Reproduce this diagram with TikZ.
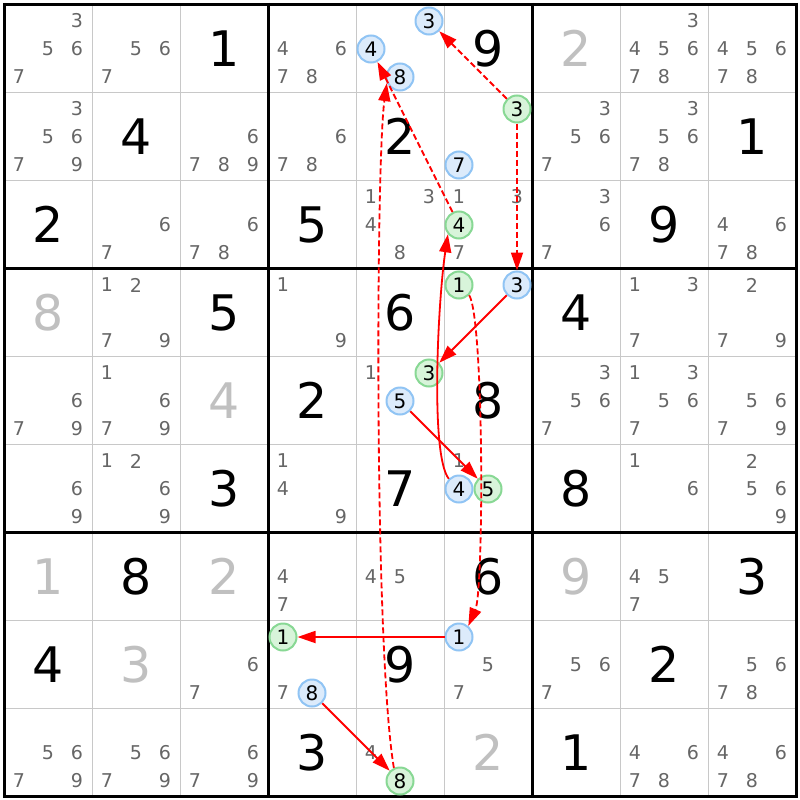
\documentclass[tikz,border=0pt]{standalone}
\usepackage{fontspec}
\setmainfont{DejaVu Sans}
\usetikzlibrary{arrows.meta}
\definecolor{candgray}{HTML}{666666}
\definecolor{solvgray}{HTML}{C0C0C0}
\definecolor{gridgray}{HTML}{C8C8C8}
\definecolor{bluefill}{HTML}{DCEBFB}
\definecolor{blueline}{HTML}{90C4F4}
\definecolor{greenfill}{HTML}{D8F4DA}
\definecolor{greenline}{HTML}{88D894}
\definecolor{arrred}{HTML}{FF0000}
\newcommand\cnd[4][cand]{%
  \pgfmathsetmacro\cx{48+88*(#3-1)+29*(mod(#4-1,3)-1)}%
  \pgfmathsetmacro\cy{49+88*(#2-1)+28*(floor((#4-1)/3)-1)}%
  \node[#1] (n#2#3#4) at (\cx,\cy) {#4};}
\newcommand\cndlist[3]{\foreach \k in {#3}{\cnd{#1}{#2}{\k}}}
\newcommand\bigd[4][given]{\node[#1] (d#2#3) at ({48.5+88*(#3-1)},{48.5+88*(#2-1)}) {#4};}
\begin{document}
\begin{tikzpicture}[x=1pt,y=-1pt,
  cand/.style={font=\fontsize{19}{20}\selectfont, text=candgray, inner sep=0pt},
  given/.style={font=\fontsize{49}{49}\selectfont, text=black, inner sep=0pt},
  solved/.style={given, text=solvgray},
  bluec/.style={circle, draw=blueline, fill=bluefill, line width=2pt, minimum size=27pt, inner sep=0pt, font=\fontsize{20}{20}\selectfont, text=black},
  greenc/.style={bluec, draw=greenline, fill=greenfill},
  thingrid/.style={draw=gridgray, line width=1.5pt},
  thickgrid/.style={draw=black, line width=3pt},
  arr/.style={draw=arrred, line width=1.8pt, -{Triangle[length=18pt,width=12pt]}},
  dasharr/.style={arr, dash pattern=on 6pt off 3pt}]
\useasboundingbox (0,0) rectangle (800,800);
\fill[white] (0,0) rectangle (800,800);
% grid
\foreach \i in {1,2,4,5,7,8} {
  \draw[thingrid] (4.5+88*\i,4.5) -- (4.5+88*\i,796.5);
  \draw[thingrid] (4.5,4.5+88*\i) -- (796.5,4.5+88*\i);
}
\foreach \i in {0,3,6,9} {
  \draw[thickgrid] (4.5+88*\i,3) -- (4.5+88*\i,798);
  \draw[thickgrid] (3,4.5+88*\i) -- (798,4.5+88*\i);
}
% big digits
\bigd{1}{3}{1} \bigd{1}{6}{9} \bigd[solved]{1}{7}{2}
\bigd{2}{2}{4} \bigd{2}{5}{2} \bigd{2}{9}{1}
\bigd{3}{1}{2} \bigd{3}{4}{5} \bigd{3}{8}{9}
\bigd[solved]{4}{1}{8} \bigd{4}{3}{5} \bigd{4}{5}{6} \bigd{4}{7}{4}
\bigd[solved]{5}{3}{4} \bigd{5}{4}{2} \bigd{5}{6}{8}
\bigd{6}{3}{3} \bigd{6}{5}{7} \bigd{6}{7}{8}
\bigd[solved]{7}{1}{1} \bigd{7}{2}{8} \bigd[solved]{7}{3}{2} \bigd{7}{6}{6} \bigd[solved]{7}{7}{9} \bigd{7}{9}{3}
\bigd{8}{1}{4} \bigd[solved]{8}{2}{3} \bigd{8}{5}{9} \bigd{8}{8}{2}
\bigd{9}{4}{3} \bigd[solved]{9}{6}{2} \bigd{9}{7}{1}
% candidates
\cndlist{1}{1}{3,5,6,7} \cndlist{1}{2}{5,6,7} \cndlist{1}{4}{4,6,7,8}
\cndlist{1}{8}{3,4,5,6,7,8} \cndlist{1}{9}{4,5,6,7,8}
\cndlist{2}{1}{3,5,6,7,9} \cndlist{2}{3}{6,7,8,9} \cndlist{2}{4}{6,7,8}
\cndlist{2}{7}{3,5,6,7} \cndlist{2}{8}{3,5,6,7,8}
\cndlist{3}{2}{6,7} \cndlist{3}{3}{6,7,8} \cndlist{3}{5}{1,3,4,8} \cndlist{3}{6}{1,3,7}
\cndlist{3}{7}{3,6,7} \cndlist{3}{9}{4,6,7,8}
\cndlist{4}{2}{1,2,7,9} \cndlist{4}{4}{1,9} \cndlist{4}{8}{1,3,7} \cndlist{4}{9}{2,7,9}
\cndlist{5}{1}{6,7,9} \cndlist{5}{2}{1,6,7,9} \cndlist{5}{5}{1}
\cndlist{5}{7}{3,5,6,7} \cndlist{5}{8}{1,3,5,6,7} \cndlist{5}{9}{5,6,7,9}
\cndlist{6}{1}{6,9} \cndlist{6}{2}{1,2,6,9} \cndlist{6}{4}{1,4,9} \cndlist{6}{6}{1}
\cndlist{6}{8}{1,6} \cndlist{6}{9}{2,5,6,9}
\cndlist{7}{4}{4,7} \cndlist{7}{5}{4,5} \cndlist{7}{8}{4,5,7}
\cndlist{8}{3}{6,7} \cndlist{8}{4}{7} \cndlist{8}{6}{5,7} \cndlist{8}{7}{5,6,7} \cndlist{8}{9}{5,6,7,8}
\cndlist{9}{1}{5,6,7,9} \cndlist{9}{2}{5,6,7,9} \cndlist{9}{3}{6,7,9} \cndlist{9}{5}{4}
\cndlist{9}{8}{4,6,7,8} \cndlist{9}{9}{4,6,7,8}
% highlighted candidates
\cnd[bluec]{1}{5}{3} \cnd[bluec]{1}{5}{4} \cnd[bluec]{1}{5}{8}
\cnd[greenc]{2}{6}{3} \cnd[bluec]{2}{6}{7}
\cnd[greenc]{3}{6}{4}
\cnd[greenc]{4}{6}{1} \cnd[bluec]{4}{6}{3}
\cnd[greenc]{5}{5}{3} \cnd[bluec]{5}{5}{5}
\cnd[bluec]{6}{6}{4} \cnd[greenc]{6}{6}{5}
\cnd[greenc]{8}{4}{1} \cnd[bluec]{8}{4}{8} \cnd[bluec]{8}{6}{1}
\cnd[greenc]{9}{5}{8}
% chain
\draw[dasharr] (n263) -- (n153);
\draw[dasharr] (n263) -- (n463);
\draw[arr] (n463) -- (n553);
\draw[arr] (n555) -- (n665);
\draw[arr] (n664.135) .. controls (430,455) and (438,300) .. (n364.220);
\draw[dasharr] (n364) -- (n154);
\draw[dasharr] (n461.-45) .. controls (484,320) and (484,590) .. (n861.50);
\draw[arr] (n861) -- (n841);
\draw[arr] (n848) -- (n958);
\draw[dasharr] (n958.115) .. controls (374,650) and (376,160) .. (n158.205);
\end{tikzpicture}
\end{document}
